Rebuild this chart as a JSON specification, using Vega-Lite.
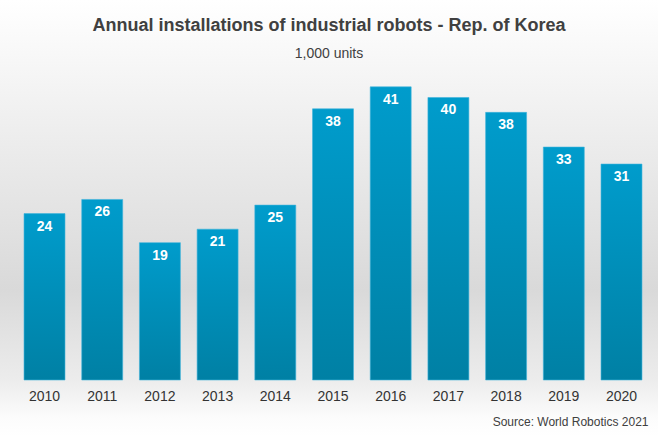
{
  "$schema": "https://vega.github.io/schema/vega-lite/v6.json",
  "width": 658,
  "height": 436,
  "autosize": "none",
  "padding": 0,
  "background": "#ffffff",
  "config": {
    "view": {
      "stroke": null,
      "fill": {
        "gradient": "linear", "x1": 0, "y1": 0, "x2": 0, "y2": 1,
        "stops": [
          {"offset": 0, "color": "#ffffff"},
          {"offset": 0.14, "color": "#f7f7f7"},
          {"offset": 0.665, "color": "#d9d9d9"},
          {"offset": 0.87, "color": "#ececec"},
          {"offset": 0.96, "color": "#fcfcfc"},
          {"offset": 1, "color": "#ffffff"}
        ]
      }
    },
    "font": "Liberation Sans"
  },
  "title": {
    "text": "Annual installations of industrial robots - Rep. of Korea",
    "subtitle": "1,000 units",
    "font": "Liberation Sans",
    "fontSize": 18,
    "fontWeight": "bold",
    "color": "#404040",
    "subtitleFont": "Liberation Sans",
    "subtitleFontSize": 14,
    "subtitleColor": "#404040",
    "subtitlePadding": 12,
    "anchor": "middle",
    "frame": "group",
    "offset": -61
  },
  "data": {
    "values": [
      {"year": "2010", "units": 23.5},
      {"year": "2011", "units": 25.5},
      {"year": "2012", "units": 19.4},
      {"year": "2013", "units": 21.3},
      {"year": "2014", "units": 24.7},
      {"year": "2015", "units": 38.3},
      {"year": "2016", "units": 41.4},
      {"year": "2017", "units": 39.9},
      {"year": "2018", "units": 37.8},
      {"year": "2019", "units": 32.9},
      {"year": "2020", "units": 30.5}
    ]
  },
  "encoding": {
    "x": {
      "field": "year",
      "type": "ordinal",
      "scale": {"paddingInner": 0.29, "paddingOuter": 0.347, "align": 0.6},
      "axis": {
        "orient": "bottom",
        "offset": -56,
        "domain": false,
        "ticks": false,
        "labelAngle": 0,
        "labelFont": "Liberation Sans",
        "labelFontSize": 14,
        "labelColor": "#333333",
        "labelPadding": 9,
        "title": "Source: World Robotics 2021",
        "titleFont": "Liberation Sans",
        "titleFontSize": 12,
        "titleFontWeight": "normal",
        "titleColor": "#404040",
        "titleAnchor": "end",
        "titleAlign": "right",
        "titleX": 648,
        "titlePadding": 13
      }
    },
    "y": {
      "field": "units",
      "type": "quantitative",
      "scale": {"domain": [-7.91, 53.67], "nice": false, "zero": false},
      "axis": null
    }
  },
  "layer": [
    {
      "mark": {
        "type": "bar",
        "stroke": "#40b4dc",
        "strokeWidth": 0.6,
        "color": {
          "gradient": "linear", "x1": 0, "y1": 0, "x2": 0, "y2": 1,
          "stops": [
            {"offset": 0, "color": "#009ccc"},
            {"offset": 1, "color": "#0080a4"}
          ]
        }
      },
      "encoding": {
        "y2": {"datum": 0}
      }
    },
    {
      "mark": {
        "type": "text",
        "color": "#ffffff",
        "fontWeight": "bold",
        "fontSize": 14,
        "font": "Liberation Sans",
        "baseline": "middle",
        "dy": 13
      },
      "encoding": {
        "text": {"field": "units", "type": "quantitative", "format": ".0f"}
      }
    }
  ]
}
